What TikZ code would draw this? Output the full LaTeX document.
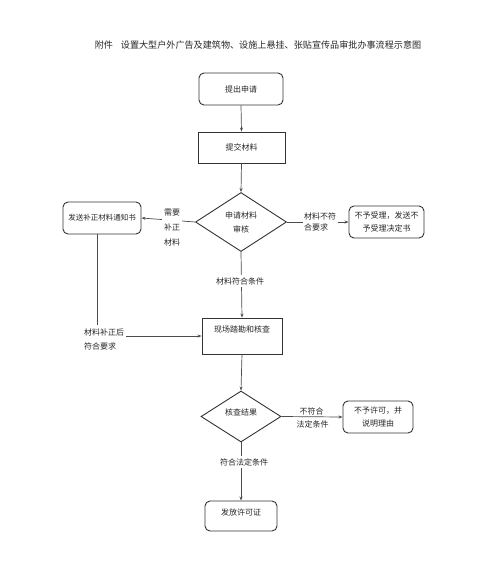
\documentclass[tikz,border=0pt]{standalone}
\usepackage{fontspec}
\setmainfont{Noto Sans CJK SC}
\usetikzlibrary{shapes.geometric,arrows.meta}
\begin{document}
\begin{tikzpicture}[x=1pt,y=-1pt,
  every node/.style={font=\fontsize{8}{14}\selectfont, text=black!85},
  rbox/.style={draw=black!80, line width=0.9pt, rounded corners=5pt, inner sep=0pt, align=center},
  sbox/.style={draw=black!80, line width=0.9pt, inner sep=0pt, align=center},
  dia/.style={draw=black!80, line width=0.9pt, diamond, inner sep=0pt, align=center},
  lbl/.style={fill=white, inner sep=2pt, align=center},
  conn/.style={draw=black!70, line width=0.7pt},
  arr/.style={conn, -{Stealth[length=4pt,width=3pt]}}
]
\useasboundingbox (0,0) rectangle (500,573);
\fill[white] (0,0) rectangle (500,573);

\node[font=\fontsize{9.1}{11}\selectfont] (title) at (258,45) {附件\hspace{8pt}设置大型户外广告及建筑物、设施上悬挂、张贴宣传品审批办事流程示意图};

\node[rbox, minimum width=84, minimum height=32] (start) at (241,89) {提出申请};
\node[sbox, minimum width=87, minimum height=31] (submit) at (241.5,147.5) {提交材料};
\node[dia, minimum width=91, minimum height=59] (d1) at (241,222) {申请材料\\审核};
\node[rbox, minimum width=78, minimum height=32, font=\fontsize{7.5}{13}\selectfont] (notify) at (102,218) {发送补正材料通知书};
\node[rbox, minimum width=75, minimum height=32, font=\fontsize{8}{13}\selectfont] (rej1) at (386.5,222) {不予受理，发送不\\予受理决定书};
\node[sbox, minimum width=80, minimum height=36] (site) at (242,336) {};
\node (sitetxt) at (242,329) {现场踏勘和核查};
\node[dia, minimum width=80, minimum height=51] (d2) at (241,416.5) {};
\node (d2txt) at (241,412) {核查结果};
\node[rbox, minimum width=70, minimum height=32, font=\fontsize{8}{13}\selectfont] (rej2) at (378,417) {不予许可，并\\说明理由};
\node[rbox, minimum width=72, minimum height=30] (permit) at (241,516) {};
\node (permittxt) at (241,512) {发放许可证};

% connectors
\draw[arr] (start.south) -- (submit.north);
\draw[arr] (submit.south) -- (d1.north);
\draw[arr] (d1.west) -- (notify.east);
\node[lbl, font=\fontsize{8}{15}\selectfont] (l1) at (172,228) {需要\\补正\\材料};
\draw[arr] (d1.east) -- (rej1.west);
\node[lbl, align=left, inner sep=1.5pt, font=\fontsize{8}{11.5}\selectfont] (l2) at (320,222) {材料不符\\合要求};
\draw[arr] (d1.south) -- (site.north);
\node[lbl] (l3) at (240,281) {材料符合条件};
\node[align=left, font=\fontsize{8}{14}\selectfont, inner sep=2pt] (l4) at (104,339) {材料补正后\\符合要求};
\coordinate (c1) at (97,325);
\draw[conn] (notify.south -| c1) -- (c1);
\draw[arr] (l4.east |- site.west) -- (site.west);
\draw[arr] (site.south) -- (d2.north);
\draw[arr] (d2.east) -- (rej2.west);
\node[fill=white, inner sep=1pt] (l5) at (311.5,411) {不符合};
\node[inner sep=1pt] (l6) at (312.5,424) {法定条件};
\draw[arr] (d2.south) -- (permit.north);
\node[lbl] (l7) at (244,462) {符合法定条件};
\end{tikzpicture}
\end{document}
